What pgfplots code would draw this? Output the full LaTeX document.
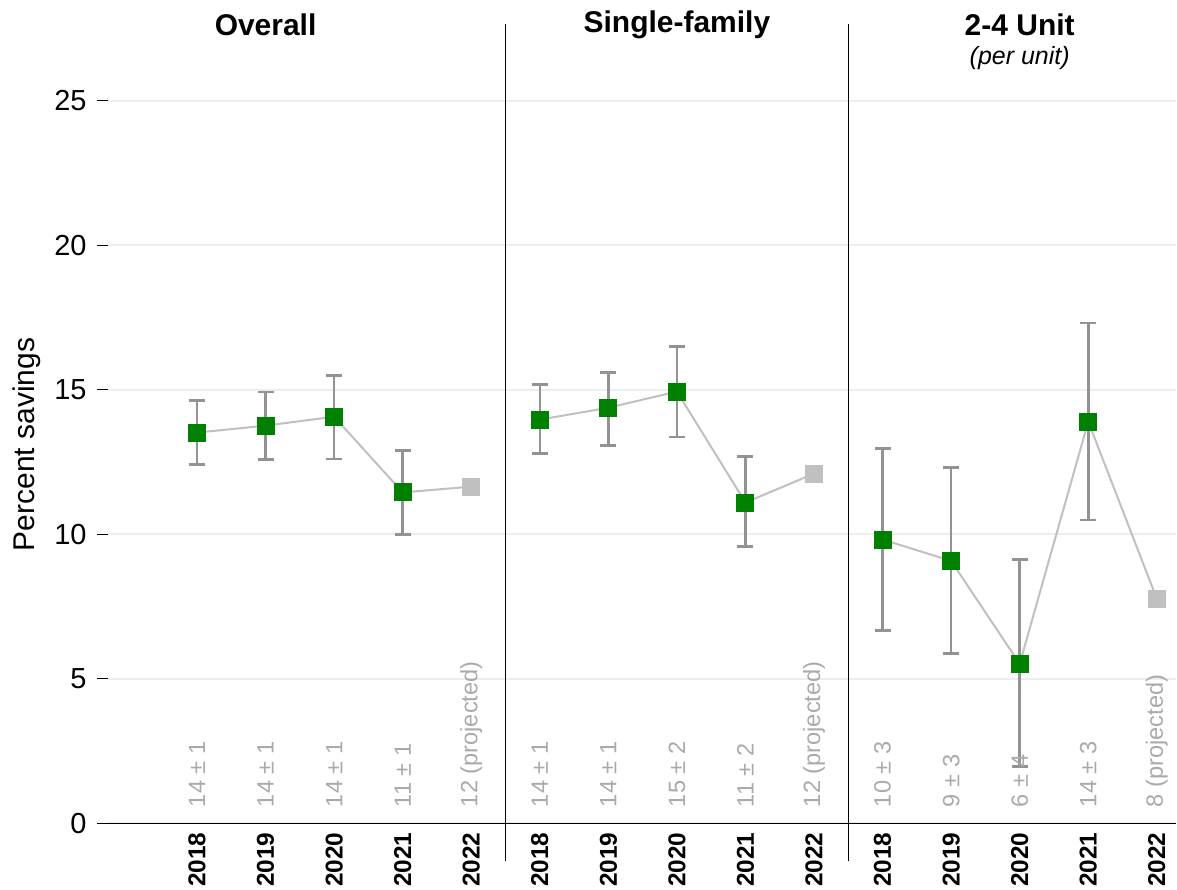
\documentclass[border=0pt]{standalone}
\usepackage{pgfplots}
\pgfplotsset{compat=1.18}
\usepackage{fontspec}
\setmainfont{Liberation Sans}
\definecolor{mygreen}{HTML}{008000}
\definecolor{projgray}{HTML}{C0C0C0}
\definecolor{errgray}{HTML}{939393}
\definecolor{lblgray}{HTML}{AAAAAA}
\definecolor{gridc}{HTML}{E6F0F0}
\begin{document}
\begin{tikzpicture}
\begin{axis}[
  scale only axis, width=534.5pt, height=400pt,
  xmin=-1.3, xmax=14.28, ymin=0, ymax=27.66,
  axis line style={draw=none},
  clip=false,
  ytick={0,5,10,15,20,25},
  xtick={0,...,14},
  xtick pos=bottom, ytick pos=left,
  xticklabels={2018,2019,2020,2021,2022,2018,2019,2020,2021,2022,2018,2019,2020,2021,2022},
  xticklabel style={rotate=90, anchor=east, font=\fontsize{12.2}{14}\selectfont\bfseries, inner sep=0pt},
  xticklabel shift=4.5pt,
  yticklabel style={font=\fontsize{14.5}{17}\selectfont, inner sep=0pt},
  yticklabel shift=10.5pt,
  /pgf/number format/assume math mode=true,
  ymajorgrids, grid style={gridc, line width=1pt},
  major tick length=0pt,
  ylabel={Percent savings},
  ylabel style={font=\fontsize{15}{18}\selectfont, at={(axis description cs:-0.0758,0.474)}, anchor=center, rotate=0},
]
\draw[black, line width=0.6pt] (axis cs:-1.46,0) -- (axis cs:14.28,0);
\draw[black, line width=0.6pt] (axis cs:-1.46,5) -- (axis cs:-1.3,5);
\draw[black, line width=0.6pt] (axis cs:-1.46,10) -- (axis cs:-1.3,10);
\draw[black, line width=0.6pt] (axis cs:-1.46,15) -- (axis cs:-1.3,15);
\draw[black, line width=0.6pt] (axis cs:-1.46,20) -- (axis cs:-1.3,20);
\draw[black, line width=0.6pt] (axis cs:-1.46,25) -- (axis cs:-1.3,25);
\draw[black, line width=0.6pt] (axis cs:4.5,27.66) -- (axis cs:4.5,-1.31);
\draw[black, line width=0.6pt] (axis cs:9.5,27.66) -- (axis cs:9.5,-1.31);

\addplot[projgray, line width=1pt, no marks] coordinates {(0,13.52) (1,13.76) (2,14.07) (3,11.45) (4,11.65)};
\addplot[projgray, line width=1pt, no marks] coordinates {(5,13.97) (6,14.38) (7,14.94) (8,11.10) (9,12.10)};
\addplot[projgray, line width=1pt, no marks] coordinates {(10,9.82) (11,9.08) (12,5.52) (13,13.90) (14,7.77)};

\addplot[only marks, mark=none, error bars/.cd, y dir=both, y explicit,
  error bar style={errgray, line width=1.3pt},
  error mark options={errgray, line width=1.3pt, mark size=4pt, rotate=90}]
 coordinates {
 (0,13.52) += (0,1.11) -= (0,1.11)
 (1,13.76) += (0,1.17) -= (0,1.18)
 (2,14.07) += (0,1.43) -= (0,1.47)
 (3,11.45) += (0,1.45) -= (0,1.46)
 (5,13.97) += (0,1.21) -= (0,1.18)
 (6,14.38) += (0,1.23) -= (0,1.31)
 (7,14.94) += (0,1.55) -= (0,1.57)
 (8,11.10) += (0,1.59) -= (0,1.53)
 (10,9.82) += (0,3.15) -= (0,3.15)
 (11,9.08) += (0,3.24) -= (0,3.20)
 (12,5.52) += (0,3.60) -= (0,3.55)
 (13,13.90) += (0,3.41) -= (0,3.41)
 };

\addplot[only marks, mark=square*, mark size=4.25pt, mygreen, mark options={draw=mygreen, fill=mygreen, line width=0pt}]
 coordinates {(0,13.52) (1,13.76) (2,14.07) (3,11.45) (5,13.97) (6,14.38) (7,14.94) (8,11.10) (10,9.82) (11,9.08) (12,5.52) (13,13.90)};
\addplot[only marks, mark=square*, mark size=4.25pt, projgray, mark options={draw=projgray, fill=projgray, line width=0pt}]
 coordinates {(4,11.65) (9,12.10) (14,7.77)};

\node[rotate=90, anchor=west, inner sep=0pt, lblgray, font=\fontsize{11.8}{14}\selectfont] at (axis cs:0,0.55) {14 ± 1};
\node[rotate=90, anchor=west, inner sep=0pt, lblgray, font=\fontsize{11.8}{14}\selectfont] at (axis cs:1,0.55) {14 ± 1};
\node[rotate=90, anchor=west, inner sep=0pt, lblgray, font=\fontsize{11.8}{14}\selectfont] at (axis cs:2,0.55) {14 ± 1};
\node[rotate=90, anchor=west, inner sep=0pt, lblgray, font=\fontsize{11.8}{14}\selectfont] at (axis cs:3,0.55) {11 ± 1};
\node[rotate=90, anchor=west, inner sep=0pt, lblgray, font=\fontsize{11.8}{14}\selectfont] at (axis cs:4,0.55) {12 (projected)};
\node[rotate=90, anchor=west, inner sep=0pt, lblgray, font=\fontsize{11.8}{14}\selectfont] at (axis cs:5,0.55) {14 ± 1};
\node[rotate=90, anchor=west, inner sep=0pt, lblgray, font=\fontsize{11.8}{14}\selectfont] at (axis cs:6,0.55) {14 ± 1};
\node[rotate=90, anchor=west, inner sep=0pt, lblgray, font=\fontsize{11.8}{14}\selectfont] at (axis cs:7,0.55) {15 ± 2};
\node[rotate=90, anchor=west, inner sep=0pt, lblgray, font=\fontsize{11.8}{14}\selectfont] at (axis cs:8,0.55) {11 ± 2};
\node[rotate=90, anchor=west, inner sep=0pt, lblgray, font=\fontsize{11.8}{14}\selectfont] at (axis cs:9,0.55) {12 (projected)};
\node[rotate=90, anchor=west, inner sep=0pt, lblgray, font=\fontsize{11.8}{14}\selectfont] at (axis cs:10,0.55) {10 ± 3};
\node[rotate=90, anchor=west, inner sep=0pt, lblgray, font=\fontsize{11.8}{14}\selectfont] at (axis cs:11,0.55) {9 ± 3};
\node[rotate=90, anchor=west, inner sep=0pt, lblgray, font=\fontsize{11.8}{14}\selectfont] at (axis cs:12,0.55) {6 ± 4};
\node[rotate=90, anchor=west, inner sep=0pt, lblgray, font=\fontsize{11.8}{14}\selectfont] at (axis cs:13,0.55) {14 ± 3};
\node[rotate=90, anchor=west, inner sep=0pt, lblgray, font=\fontsize{11.8}{14}\selectfont] at (axis cs:14,0.55) {8 (projected)};

\node[font=\fontsize{15}{18}\selectfont\bfseries] at (axis cs:1,27.63) {Overall};
\node[font=\fontsize{15}{18}\selectfont\bfseries] at (axis cs:7,27.63) {Single-family};
\node[font=\fontsize{15}{18}\selectfont\bfseries] at (axis cs:12,27.63) {2-4 Unit};
\node[font=\fontsize{12.5}{15}\selectfont\itshape] at (axis cs:12,26.49) {(per unit)};
\end{axis}
\path (current axis.south west) ++(-54pt,-33pt) rectangle ++(588.5pt,445pt);
\end{tikzpicture}
\end{document}
